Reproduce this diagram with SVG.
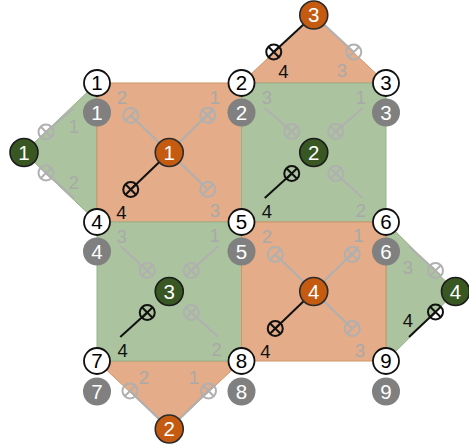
<svg xmlns="http://www.w3.org/2000/svg" xmlns:xlink="http://www.w3.org/1999/xlink" width="469" height="448" viewBox="0 0 469 448">
<style>
.or{fill:#e4ac88;stroke:#cf9469;stroke-width:1}
.gr{fill:#abc49f;stroke:#97b28a;stroke-width:1}
.sg{stroke:#b0b0b0;stroke-width:2;fill:none}
.sb{stroke:#111;stroke-width:2;fill:none}
.lg{font-family:"Liberation Sans",Arial,sans-serif;font-size:18.5px;fill:#a9a9a9;text-anchor:middle}
.lb{font-family:"Liberation Sans",Arial,sans-serif;font-size:18.5px;fill:#111;text-anchor:middle}
.nw circle{fill:#fff;stroke:#111;stroke-width:1.8}
.ng circle{fill:#808080}
.eo circle{fill:#c55a11;stroke:#2b2b2b;stroke-width:1.6}
.eg circle{fill:#385723;stroke:#1c1c1c;stroke-width:1.6}
.nt{font-family:"Liberation Sans",Arial,sans-serif;font-size:20.5px;text-anchor:middle}
.nw text{fill:#000}
.ng text,.eo text,.eg text{fill:#fff}
</style>
<defs>
<g id="ox"><circle r="7.5"/><line x1="-5.3" y1="-5.3" x2="5.3" y2="5.3"/><line x1="-5.3" y1="5.3" x2="5.3" y2="-5.3"/></g>
<g id="os"><circle r="7.5"/><line x1="-5.3" y1="5.3" x2="5.3" y2="-5.3"/></g>
</defs>
<g id="regions">
<polygon class="gr" points="97,83 24,152.5 97,222"/>
<polygon class="or" points="241.5,83 313.75,15 386,83"/>
<polygon class="gr" points="386,222 456,291.5 386,361"/>
<polygon class="or" points="97,361 169.25,429 241.5,361"/>
<rect class="or" x="97" y="83" width="144.5" height="139"/>
<rect class="gr" x="241.5" y="83" width="144.5" height="139"/>
<rect class="gr" x="97" y="222" width="144.5" height="139"/>
<rect class="or" x="241.5" y="222" width="144.5" height="139"/>
</g>
<g id="connectors">
<line class="sg" x1="169.25" y1="152.5" x2="130.75" y2="115.5"/>
<line class="sg" x1="169.25" y1="152.5" x2="214" y2="108"/>
<line class="sg" x1="169.25" y1="152.5" x2="207.75" y2="189.5"/>
<line class="sb" x1="169.25" y1="152.5" x2="130.75" y2="189.5"/>
<use xlink:href="#os" x="130.75" y="115.5" class="sg" fill="#e4ac88"/>
<use xlink:href="#ox" x="207.75" y="115.5" class="sg" fill="#e4ac88"/>
<use xlink:href="#os" x="207.75" y="189.5" class="sg" fill="#e4ac88"/>
<use xlink:href="#ox" x="130.75" y="189.5" class="sb" fill="#e4ac88"/>
<line class="sg" x1="313.75" y1="291.5" x2="275.25" y2="254.5"/>
<line class="sg" x1="313.75" y1="291.5" x2="358.5" y2="247"/>
<line class="sg" x1="313.75" y1="291.5" x2="352.25" y2="328.5"/>
<line class="sb" x1="313.75" y1="291.5" x2="275.25" y2="328.5"/>
<use xlink:href="#os" x="275.25" y="254.5" class="sg" fill="#e4ac88"/>
<use xlink:href="#ox" x="352.25" y="254.5" class="sg" fill="#e4ac88"/>
<use xlink:href="#os" x="352.25" y="328.5" class="sg" fill="#e4ac88"/>
<use xlink:href="#ox" x="275.25" y="328.5" class="sb" fill="#e4ac88"/>
<line class="sg" x1="291.75" y1="131.5" x2="264.75" y2="108"/>
<line class="sg" x1="335.75" y1="131.5" x2="362.75" y2="108"/>
<line class="sg" x1="335.75" y1="173.5" x2="362.75" y2="198"/>
<line class="sb" x1="291.75" y1="173.5" x2="264.75" y2="198"/>
<use xlink:href="#ox" x="291.75" y="131.5" class="sg" fill="#abc49f"/>
<use xlink:href="#ox" x="335.75" y="131.5" class="sg" fill="#abc49f"/>
<use xlink:href="#ox" x="335.75" y="173.5" class="sg" fill="#abc49f"/>
<use xlink:href="#ox" x="291.75" y="173.5" class="sb" fill="#abc49f"/>
<line class="sg" x1="147.25" y1="270.5" x2="120.25" y2="246"/>
<line class="sg" x1="191.25" y1="270.5" x2="218.25" y2="246"/>
<line class="sg" x1="191.25" y1="312.5" x2="218.25" y2="337"/>
<line class="sb" x1="147.25" y1="312.5" x2="120.25" y2="337"/>
<use xlink:href="#ox" x="147.25" y="270.5" class="sg" fill="#abc49f"/>
<use xlink:href="#ox" x="191.25" y="270.5" class="sg" fill="#abc49f"/>
<use xlink:href="#ox" x="191.25" y="312.5" class="sg" fill="#abc49f"/>
<use xlink:href="#ox" x="147.25" y="312.5" class="sb" fill="#abc49f"/>
<line class="sg" x1="46" y1="132" x2="74" y2="108"/>
<line class="sg" x1="46" y1="173" x2="74" y2="198"/>
<use xlink:href="#ox" x="46" y="132" class="sg" fill="#abc49f"/>
<use xlink:href="#ox" x="46" y="173" class="sg" fill="#abc49f"/>
<line class="sg" x1="435.5" y1="270.5" x2="409" y2="246.5"/>
<line class="sb" x1="435.5" y1="312" x2="409" y2="337"/>
<use xlink:href="#ox" x="435.5" y="270.5" class="sg" fill="#abc49f"/>
<use xlink:href="#ox" x="435.5" y="312" class="sb" fill="#abc49f"/>
<line class="sb" x1="313.75" y1="15" x2="273.75" y2="52"/>
<line class="sg" x1="313.75" y1="15" x2="353.75" y2="52"/>
<use xlink:href="#ox" x="273.75" y="52" class="sb" fill="#e4ac88"/>
<use xlink:href="#os" x="353.75" y="52" class="sg" fill="#e4ac88"/>
<line class="sg" x1="169.25" y1="429" x2="130" y2="391"/>
<line class="sg" x1="169.25" y1="429" x2="214" y2="385"/>
<use xlink:href="#os" x="130" y="391" class="sg" fill="#e4ac88"/>
<use xlink:href="#ox" x="208.5" y="391" class="sg" fill="#e4ac88"/>
</g>
<g id="labels">
<text class="lg" x="122" y="103.5">2</text>
<text class="lg" x="215" y="103.5">1</text>
<text class="lg" x="215" y="216.5">3</text>
<text class="lb" x="121.5" y="219">4</text>
<text class="lg" x="267" y="242.5">2</text>
<text class="lg" x="358.5" y="241.5">1</text>
<text class="lg" x="360" y="356.5">3</text>
<text class="lb" x="265.5" y="358">4</text>
<text class="lg" x="267" y="103.5">3</text>
<text class="lg" x="361" y="103.5">1</text>
<text class="lg" x="361" y="216.5">2</text>
<text class="lb" x="267" y="217.5">4</text>
<text class="lg" x="121.7" y="242.5">3</text>
<text class="lg" x="215" y="241.5">1</text>
<text class="lg" x="216.7" y="356">2</text>
<text class="lb" x="122.7" y="356.5">4</text>
<text class="lg" x="74" y="132.5">1</text>
<text class="lg" x="74" y="188.5">2</text>
<text class="lg" x="408" y="273.5">3</text>
<text class="lb" x="408" y="326.5">4</text>
<text class="lb" x="283.5" y="77.5">4</text>
<text class="lg" x="342" y="76.5">3</text>
<text class="lg" x="144" y="383.5">2</text>
<text class="lg" x="194" y="384">1</text>
</g>
<g id="elem-o1" class="eo"><circle cx="169.25" cy="152.5" r="14"/><text class="nt" x="169.25" y="159.8">1</text></g>
<g id="elem-g2" class="eg"><circle cx="313.75" cy="152.5" r="14"/><text class="nt" x="313.75" y="159.8">2</text></g>
<g id="elem-g3" class="eg"><circle cx="169.25" cy="291.5" r="14"/><text class="nt" x="169.25" y="298.8">3</text></g>
<g id="elem-o4" class="eo"><circle cx="313.75" cy="291.5" r="14"/><text class="nt" x="313.75" y="298.8">4</text></g>
<g id="elem-g1" class="eg"><circle cx="24" cy="152.5" r="14"/><text class="nt" x="24" y="159.8">1</text></g>
<g id="elem-o3" class="eo"><circle cx="313.75" cy="15" r="14"/><text class="nt" x="313.75" y="22.3">3</text></g>
<g id="elem-g4" class="eg"><circle cx="455.5" cy="291.5" r="14"/><text class="nt" x="455.5" y="298.8">4</text></g>
<g id="elem-o2" class="eo"><circle cx="169.25" cy="429" r="14"/><text class="nt" x="169.25" y="436.3">2</text></g>
<g id="gnode-1" class="ng"><circle cx="97" cy="112.5" r="14"/><text class="nt" x="97" y="119.8">1</text></g>
<g id="gnode-2" class="ng"><circle cx="241.5" cy="112.5" r="14"/><text class="nt" x="241.5" y="119.8">2</text></g>
<g id="gnode-3" class="ng"><circle cx="386" cy="112.5" r="14"/><text class="nt" x="386" y="119.8">3</text></g>
<g id="gnode-4" class="ng"><circle cx="97" cy="251.5" r="14"/><text class="nt" x="97" y="258.8">4</text></g>
<g id="gnode-5" class="ng"><circle cx="241.5" cy="251.5" r="14"/><text class="nt" x="241.5" y="258.8">5</text></g>
<g id="gnode-6" class="ng"><circle cx="386" cy="251.5" r="14"/><text class="nt" x="386" y="258.8">6</text></g>
<g id="gnode-7" class="ng"><circle cx="97" cy="391.5" r="14"/><text class="nt" x="97" y="398.8">7</text></g>
<g id="gnode-8" class="ng"><circle cx="241.5" cy="391.5" r="14"/><text class="nt" x="241.5" y="398.8">8</text></g>
<g id="gnode-9" class="ng"><circle cx="386" cy="391.5" r="14"/><text class="nt" x="386" y="398.8">9</text></g>
<g id="node-1" class="nw"><circle cx="97" cy="83" r="13"/><text class="nt" x="97" y="90.3">1</text></g>
<g id="node-2" class="nw"><circle cx="241.5" cy="83" r="13"/><text class="nt" x="241.5" y="90.3">2</text></g>
<g id="node-3" class="nw"><circle cx="386" cy="83" r="13"/><text class="nt" x="386" y="90.3">3</text></g>
<g id="node-4" class="nw"><circle cx="97" cy="222" r="13"/><text class="nt" x="97" y="229.3">4</text></g>
<g id="node-5" class="nw"><circle cx="241.5" cy="222" r="13"/><text class="nt" x="241.5" y="229.3">5</text></g>
<g id="node-6" class="nw"><circle cx="386" cy="222" r="13"/><text class="nt" x="386" y="229.3">6</text></g>
<g id="node-7" class="nw"><circle cx="97" cy="361" r="13"/><text class="nt" x="97" y="368.3">7</text></g>
<g id="node-8" class="nw"><circle cx="241.5" cy="361" r="13"/><text class="nt" x="241.5" y="368.3">8</text></g>
<g id="node-9" class="nw"><circle cx="386" cy="361" r="13"/><text class="nt" x="386" y="368.3">9</text></g>
</svg>
